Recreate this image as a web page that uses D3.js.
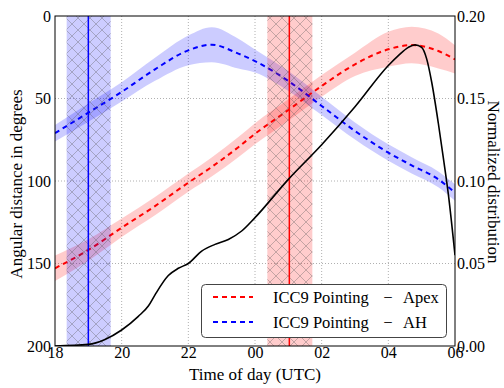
<!DOCTYPE html>
<html>
<head>
<meta charset="utf-8">
<script src="https://cdn.jsdelivr.net/npm/d3@7"></script>
<style>body { margin: 0; background: #fff; }</style>
</head>
<body>
<div id="chart"></div>
<script>
// pointing curves (hours after 18 UTC, continuing past midnight as 24..30)
const hours = [18, 19, 20, 21, 22, 22.7, 23.5, 24, 25, 26, 27, 28, 28.7, 29.5, 30];
const apexDeg = [152.9, 141.8, 128.3, 115.2, 101.0, 91.5, 79.5, 71.4, 57.0, 42.4, 29.3, 20.2, 17.6, 21.2, 26.3];
const apexSpread = [7.7, 6.5, 5.6, 5.5, 5.5, 5.8, 6.1, 6.4, 6.5, 6.6, 7.1, 10.6, 11.1, 10.6, 8.5];
const ahDeg = [71.0, 58.6, 46.0, 32.3, 20.8, 17.4, 22.8, 27.3, 39.4, 54.5, 69.7, 82.8, 90.5, 99.0, 107.0];
const ahSpread = [5.0, 5.5, 5.8, 7.0, 9.0, 10.6, 9.0, 7.0, 6.0, 5.5, 5.2, 5.0, 4.9, 4.8, 5.0];

// normalized distribution (right axis)
const distHours = [18, 19, 19.5, 20, 20.5, 20.8, 21, 21.4, 21.7, 22, 22.4, 22.8, 23.2, 23.6, 24, 25, 26, 27, 28, 28.3, 28.6, 28.8, 29.0, 29.15, 29.3, 29.5, 29.65, 29.8, 30];
const distValues = [0, 0.001, 0.004, 0.0097, 0.018, 0.0242, 0.031, 0.0427, 0.0471, 0.050, 0.0575, 0.0616, 0.0646, 0.0697, 0.0778, 0.101, 0.122, 0.145, 0.170, 0.176, 0.181, 0.1825, 0.181, 0.174, 0.160, 0.135, 0.114, 0.092, 0.055];

// hatched time windows
const ahWindow = [18.35, 19.67];
const ahLine = 19.0;
const apexWindow = [24.37, 25.72];
const apexLine = 25.03;

const xTicks = [18, 20, 22, 24, 26, 28, 30];
const yTicks = [0, 50, 100, 150, 200];
const y2Ticks = [0, 0.05, 0.10, 0.15, 0.20];
const legendLabels = ["Apex", "AH"];

const FONT = '"Liberation Serif"';

const width = 504, height = 388;
const margin = { top: 16, right: 49, bottom: 42, left: 55 };
const x0 = margin.left, x1 = width - margin.right;
const y0 = margin.top, y1 = height - margin.bottom;

const svg = d3.select('#chart').append('svg')
    .attr('width', width)
    .attr('height', height);

const x = d3.scaleLinear().domain([18, 30]).range([x0, x1]);
const y = d3.scaleLinear().domain([0, 200]).range([y0, y1]);
const y2 = d3.scaleLinear().domain([0, 0.2]).range([y1, y0]);

// small helper so every label gets the same serif face
function label(g, str, size) {
  return g.append('text')
      .style('font-family', FONT)
      .attr('font-size', size)
      .text(str);
}

// hatch pattern
const defs = svg.append('defs');
const pat = defs.append('pattern')
    .attr('id', 'hatch')
    .attr('patternUnits', 'userSpaceOnUse')
    .attr('width', 12).attr('height', 12);
pat.append('path')
    .attr('d', 'M0,0L12,12M12,0L0,12M-6,6L6,18M6,-6L18,6M-6,6L6,-6M6,18L18,6')
    .attr('stroke', '#555')
    .attr('stroke-opacity', 0.35)
    .attr('stroke-width', 1);

defs.append('clipPath').attr('id', 'clip')
  .append('rect').attr('x', x0).attr('y', y0).attr('width', x1 - x0).attr('height', y1 - y0);

// grid
const grid = svg.append('g')
    .attr('stroke', '#b0b0b0')
    .attr('stroke-width', 1)
    .attr('stroke-dasharray', '1,2');
grid.selectAll('.gx').data(xTicks.slice(1, -1)).enter().append('line')
    .attr('x1', d => x(d)).attr('x2', d => x(d))
    .attr('y1', y0).attr('y2', y1);
grid.selectAll('.gy').data(yTicks.slice(1, -1)).enter().append('line')
    .attr('x1', x0).attr('x2', x1)
    .attr('y1', d => y(d)).attr('y2', d => y(d));

const plot = svg.append('g').attr('clip-path', 'url(#clip)');

const curve = d3.curveMonotoneX;
const series = [
  { vals: apexDeg, spread: apexSpread, color: 'red' },
  { vals: ahDeg, spread: ahSpread, color: 'blue' }
];

// uncertainty bands
series.forEach(s => {
  const area = d3.area()
      .x((d, i) => x(hours[i]))
      .y0((d, i) => y(d - s.spread[i]))
      .y1((d, i) => y(d + s.spread[i]))
      .curve(curve);
  plot.append('path')
      .attr('d', area(s.vals))
      .attr('fill', s.color)
      .attr('fill-opacity', 0.2);
});

// dashed pointing curves
series.forEach(s => {
  const line = d3.line()
      .x((d, i) => x(hours[i]))
      .y(d => y(d))
      .curve(curve);
  plot.append('path')
      .attr('d', line(s.vals))
      .attr('fill', 'none')
      .attr('stroke', s.color)
      .attr('stroke-width', 2)
      .attr('stroke-dasharray', '5,4');
});

// legend
const lg = svg.append('g');
lg.append('rect')
    .attr('x', 201.5).attr('y', 284.5)
    .attr('width', 245).attr('height', 53)
    .attr('rx', 4)
    .attr('fill', '#fff')
    .attr('stroke', '#444')
    .attr('stroke-width', 1);
legendLabels.forEach((lab, i) => {
  const cy = 297 + i * 25;
  lg.append('line')
      .attr('x1', 213).attr('x2', 253)
      .attr('y1', cy).attr('y2', cy)
      .attr('stroke', series[i].color)
      .attr('stroke-width', 2)
      .attr('stroke-dasharray', '5,4');
  [['ICC9 Pointing', 273, 'start'], ['\u2212', 388, 'middle'], [lab, 403, 'start']].forEach(([t, tx, anchor]) => {
    label(lg, t, 16.5)
        .attr('x', tx).attr('y', cy + 5.5)
        .attr('text-anchor', anchor);
  });
});

// hatched time windows (on twin axes, over the legend)
[[ahWindow, ahLine, 'blue'], [apexWindow, apexLine, 'red']].forEach(([w, l, c]) => {
  plot.append('rect')
      .attr('x', x(w[0])).attr('y', y0)
      .attr('width', x(w[1]) - x(w[0])).attr('height', y1 - y0)
      .attr('fill', c).attr('fill-opacity', 0.2);
  plot.append('rect')
      .attr('x', x(w[0])).attr('y', y0)
      .attr('width', x(w[1]) - x(w[0])).attr('height', y1 - y0)
      .attr('fill', 'url(#hatch)');
  plot.append('line')
      .attr('x1', x(l)).attr('x2', x(l))
      .attr('y1', y0).attr('y2', y1)
      .attr('stroke', c).attr('stroke-width', 1.5);
});

// distribution curve
const distLine = d3.line()
    .x((d, i) => x(distHours[i]))
    .y(d => y2(d))
    .curve(curve);
plot.append('path')
    .attr('d', distLine(distValues))
    .attr('fill', 'none')
    .attr('stroke', '#000')
    .attr('stroke-width', 1.6);

// spines
svg.append('rect')
    .attr('x', x0).attr('y', y0)
    .attr('width', x1 - x0).attr('height', y1 - y0)
    .attr('fill', 'none')
    .attr('stroke', '#000')
    .attr('stroke-width', 1);

// axes
const fmtHour = d => String(d % 24).padStart(2, '0');
const xAxis = svg.append('g')
    .attr('transform', `translate(0,${y1})`)
    .call(d3.axisBottom(x).tickValues(xTicks).tickFormat(fmtHour).tickSize(0).tickPadding(1));
const yAxis = svg.append('g')
    .attr('transform', `translate(${x0},0)`)
    .call(d3.axisLeft(y).tickValues(yTicks).tickFormat(d3.format('d')).tickSize(0).tickPadding(4));
const y2Axis = svg.append('g')
    .attr('transform', `translate(${x1},0)`)
    .call(d3.axisRight(y2).tickValues(y2Ticks).tickFormat(d3.format('.2f')).tickSize(0).tickPadding(2));
[xAxis, yAxis, y2Axis].forEach(a => {
  a.select('.domain').remove();
  a.attr('font-family', null).attr('font-size', null);
  a.selectAll('text')
      .style('font-family', FONT)
      .attr('font-size', 16)
      .attr('fill', '#000');
});

// axis titles
label(svg, 'Time of day (UTC)', 17)
    .attr('x', 255).attr('y', 380)
    .attr('text-anchor', 'middle');
label(svg, 'Angular distance in degrees', 17)
    .attr('transform', 'translate(22,184) rotate(-90)')
    .attr('text-anchor', 'middle');
label(svg, 'Normalized distribution', 17)
    .attr('transform', 'translate(488,182) rotate(90)')
    .attr('text-anchor', 'middle');
</script>
</body>
</html>
